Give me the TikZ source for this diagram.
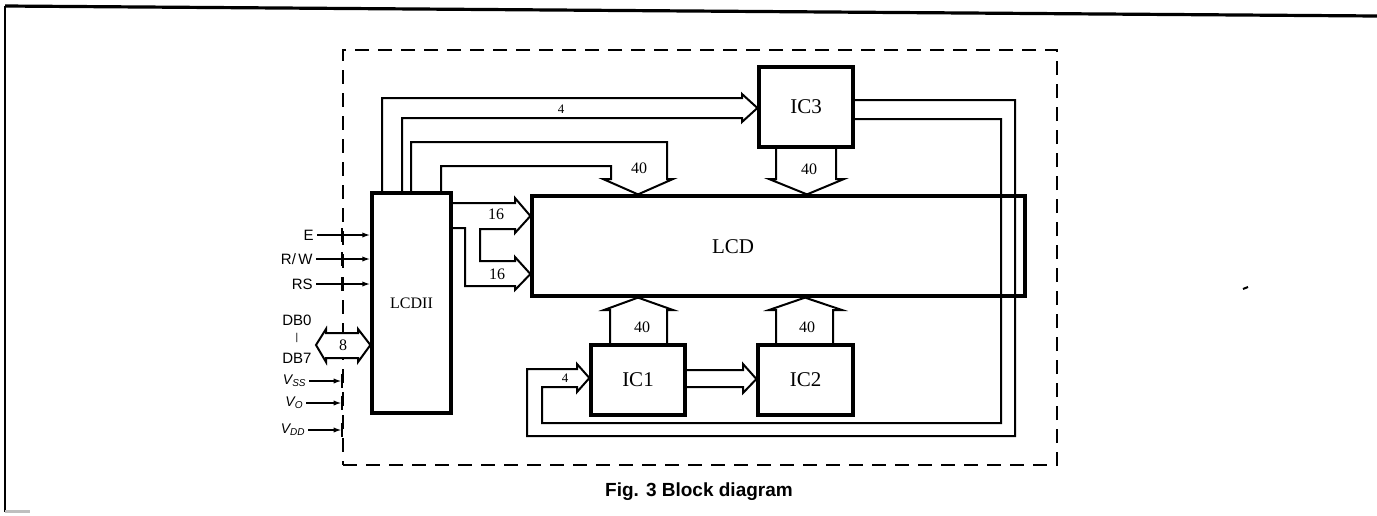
\documentclass[tikz,border=0pt]{standalone}
\usepackage{fontspec}
\setmainfont{Liberation Serif}
\setsansfont{Liberation Sans}
\usetikzlibrary{arrows.meta}
\begin{document}
\begin{tikzpicture}[x=0.5pt,y=-0.5pt,
  box/.style={draw, line width=1.6pt, inner sep=0pt, font=\fontsize{10.5}{12}\selectfont},
  bus/.style={draw, line width=1pt, line join=miter, fill=white},
  wire/.style={line width=1pt},
  num/.style={font=\fontsize{8}{9}\selectfont, inner sep=0pt},
  small/.style={font=\fontsize{6.5}{7}\selectfont, inner sep=0pt},
  pinlab/.style={font=\sffamily\fontsize{7.5}{8}\selectfont, inner sep=0pt},
  pwrlab/.style={font=\sffamily\itshape\fontsize{7}{8}\selectfont, inner sep=0pt},
  tip/.style={-{Latex[length=4pt,width=2.6pt]}},
  frame/.style={draw, line width=1.3pt, dash pattern=on 7pt off 4.5pt, inner sep=0pt}
]
\useasboundingbox (0,0) rectangle (1377,515);
% outer page lines
\draw[line width=1pt] (5,512) -- (5,6);
\draw[line width=1.6pt] (5,6) -- (1377,16);
\draw[gray!50, line width=1.5pt] (5,511) -- (30,511);
\draw[line width=1pt] (1243,289) -- (1248,287);

% dashed frame
\node[frame, minimum width=357pt, minimum height=207.5pt] (frame) at (700,257.5) {};

% blocks
\node[box, minimum width=39.5pt, minimum height=110pt] (lcdii) at (411.5,303) {};
\node[font=\fontsize{8}{9}\selectfont] at (lcdii.center) {LCDII};
\node[box, minimum width=246.5pt, minimum height=50pt] (lcd) at (778.5,246) {};
\node[font=\fontsize{10.5}{12}\selectfont] at (733,247) {LCD};
\node[box, minimum width=47pt, minimum height=40pt] (ic3) at (806,107) {IC3};
\node[box, minimum width=47pt, minimum height=35pt] (ic1) at (638,380) {IC1};
\node[box, minimum width=47.5pt, minimum height=35pt] (ic2) at (805.5,380) {IC2};

% LCDII -> IC3 (4)
\draw[bus, fill=none] (382,0 |- lcdii.north) -- (382,98) -- (742,98) -- (742,94)
  -- (ic3.west |- 0,108) -- (742,122) -- (742,118) -- (402,118) -- (402,0 |- lcdii.north);
\node[small] at (561,109) {4};

% LCDII -> LCD top (40)
\draw[bus, fill=none] (411,0 |- lcdii.north) -- (411,142) -- (667,142) -- (667,179) -- (673,179)
  -- (638,0 |- lcd.north) -- (603,179) -- (611,179) -- (611,166) -- (441,166) -- (441,0 |- lcdii.north);
\node[num] at (639,168) {40};

% IC3 -> LCD (40)
\draw[bus, fill=none] (776,0 |- ic3.south) -- (776,179) -- (769,179) -- (807,0 |- lcd.north)
  -- (844,179) -- (836,179) -- (836,0 |- ic3.south);
\node[num] at (809,169) {40};

% LCDII -> LCD (16, 16)
\draw[bus, fill=none] (lcdii.east |- 0,203) -- (515,203) -- (515,198) -- (lcd.west |- 0,216)
  -- (515,233) -- (515,229) -- (480,229) -- (480,261) -- (515,261) -- (515,257)
  -- (lcd.west |- 0,274) -- (515,290) -- (515,286) -- (465,286) -- (465,228) -- (lcdii.east |- 0,228);
\node[num] at (496,214) {16};
\node[num] at (497,274) {16};

% IC1 -> LCD (40)
\draw[bus, fill=none] (610,0 |- ic1.north) -- (610,310) -- (604,310) -- (638,0 |- lcd.south)
  -- (673,310) -- (667,310) -- (667,0 |- ic1.north);
\node[num] at (642,327) {40};

% IC2 -> LCD (40)
\draw[bus, fill=none] (776,0 |- ic2.north) -- (776,310) -- (769,310) -- (805,0 |- lcd.south)
  -- (842,310) -- (833,310) -- (833,0 |- ic2.north);
\node[num] at (807,327) {40};

% IC1 -> IC2
\draw[bus, fill=none] (ic1.east |- 0,370) -- (743,370) -- (743,364) -- (ic2.west |- 0,379)
  -- (743,393) -- (743,387) -- (ic1.east |- 0,387);

% IC3 -> IC1 loop (4)
\draw[bus, fill=none] (ic3.east |- 0,100) -- (1015,100) -- (1015,436) -- (527,436) -- (527,369)
  -- (577,369) -- (577,364) -- (ic1.west |- 0,378) -- (577,392) -- (577,387) -- (542,387)
  -- (542,423) -- (1001,423) -- (1001,119) -- (ic3.east |- 0,119);
\node[small] at (565,378) {4};

% control inputs
\node[pinlab, anchor=east] (pE) at (314,235) {E};
\node[pinlab, anchor=east] (pRW) at (313,259) {R/\,W};
\node[pinlab, anchor=east] (pRS) at (313,284) {RS};
\foreach \p in {pE,pRW,pRS} {
  \draw[wire, tip] ([xshift=1.5pt]\p.east) -- (lcdii.west |- \p.east);
  \draw[wire] ([yshift=3.5pt]frame.west |- \p.east) -- ([yshift=-3.5pt]frame.west |- \p.east);
}

% data bus
\node[pinlab] (db0) at (297,320) {DB0};
\node[pinlab, font=\sffamily\fontsize{5}{6}\selectfont] (dbdots) at (297,338) {|};
\node[pinlab] (db7) at (297,358) {DB7};
\draw[bus] (316,345) -- (326,329) -- (326,333) -- (358,333) -- (358,329) -- (lcdii.west |- 0,345)
  -- (358,362) -- (358,358) -- (326,358) -- (326,362) -- cycle;
\node[num] at (343,345) {8};

% power pins
\node[pwrlab, anchor=east] (vss) at (307,381) {V\textsubscript{SS}};
\node[pwrlab, anchor=east] (vo) at (304,403) {V\textsubscript{O}};
\node[pwrlab, anchor=east] (vdd) at (306,430) {V\textsubscript{DD}};
\foreach \p in {vss,vo,vdd} {
  \coordinate (t\p) at (frame.west |- \p.east);
  \draw[wire, tip] ([xshift=1pt]\p.east) -- (t\p);
  \draw[wire] ([yshift=3.5pt]t\p) -- ([yshift=-3.5pt]t\p);
}

% caption
\node[font=\sffamily\bfseries\fontsize{9.5}{11}\selectfont] (cap) at (699,492) {Fig. 3 Block diagram};
\end{tikzpicture}
\end{document}
